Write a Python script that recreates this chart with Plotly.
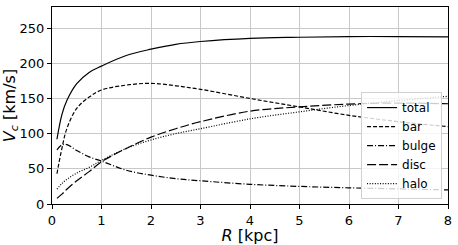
import plotly.graph_objects as go

R = [0.1, 0.2, 0.3, 0.5, 0.75, 1.0, 1.5, 2.0, 2.5, 3.0, 4.0, 5.0, 6.0, 7.0, 8.0]
v_total = [92, 127, 147, 171, 187, 196, 211, 220, 227, 231, 235.5, 237, 238, 238, 237.5]
v_bar = [43, 79, 107, 136, 152, 162, 169, 171.5, 168, 163, 150, 138, 126, 117, 110]
v_bulge = [77, 84, 84.5, 76, 67, 61, 48, 41, 36, 33, 28, 25, 23, 21.5, 20]
v_disc = [8, 14, 21, 33, 46, 60, 79, 95, 107, 117, 132, 138, 142, 143.5, 142.5]
v_halo = [21, 29, 35, 44, 52, 62, 79, 91, 100, 107, 121, 131, 140, 147, 153]

series = [
    ("total", v_total, "solid"),
    ("bar", v_bar, "4px,2px"),
    ("bulge", v_bulge, "6px,2px,1px,2px"),
    ("disc", v_disc, "9px,3px"),
    ("halo", v_halo, "1px,1.6px"),
]

fig = go.Figure()
for name, vals, dash in series:
    fig.add_trace(go.Scatter(x=R, y=vals, mode="lines", name=name,
                             line=dict(color="black", width=1.2, dash=dash, shape="spline")))

axis_common = dict(showline=True, linecolor="black", linewidth=1, mirror=True,
                   ticks="outside", ticklen=4, tickcolor="black", automargin=False,
                   showgrid=True, gridcolor="#c8c8c8", gridwidth=1, zeroline=False,
                   tickfont=dict(size=13, color="black"))

fig.update_xaxes(range=[0, 8], dtick=1, title=dict(text="<i>R</i> [kpc]", font=dict(size=16), standoff=0), **axis_common)
fig.update_yaxes(range=[0, 280], dtick=50, title=dict(text="<i>V<sub>c</sub></i> [km/s]", font=dict(size=16), standoff=4), **axis_common)

fig.update_layout(
    width=458, height=245,
    margin=dict(l=52, r=10, t=7, b=41),
    paper_bgcolor="white", plot_bgcolor="white",
    font=dict(family="DejaVu Sans", color="black"),
    legend=dict(x=0.985, y=0.025, xanchor="right", yanchor="bottom",
                bgcolor="rgba(255,255,255,0.8)", bordercolor="#d0d0d0", borderwidth=1,
                font=dict(size=12), tracegroupgap=0, itemwidth=30),
)

fig.write_html("out.html", config={"displayModeBar": False},
               post_script="document.body.style.margin='0';document.body.style.overflow='hidden';")
